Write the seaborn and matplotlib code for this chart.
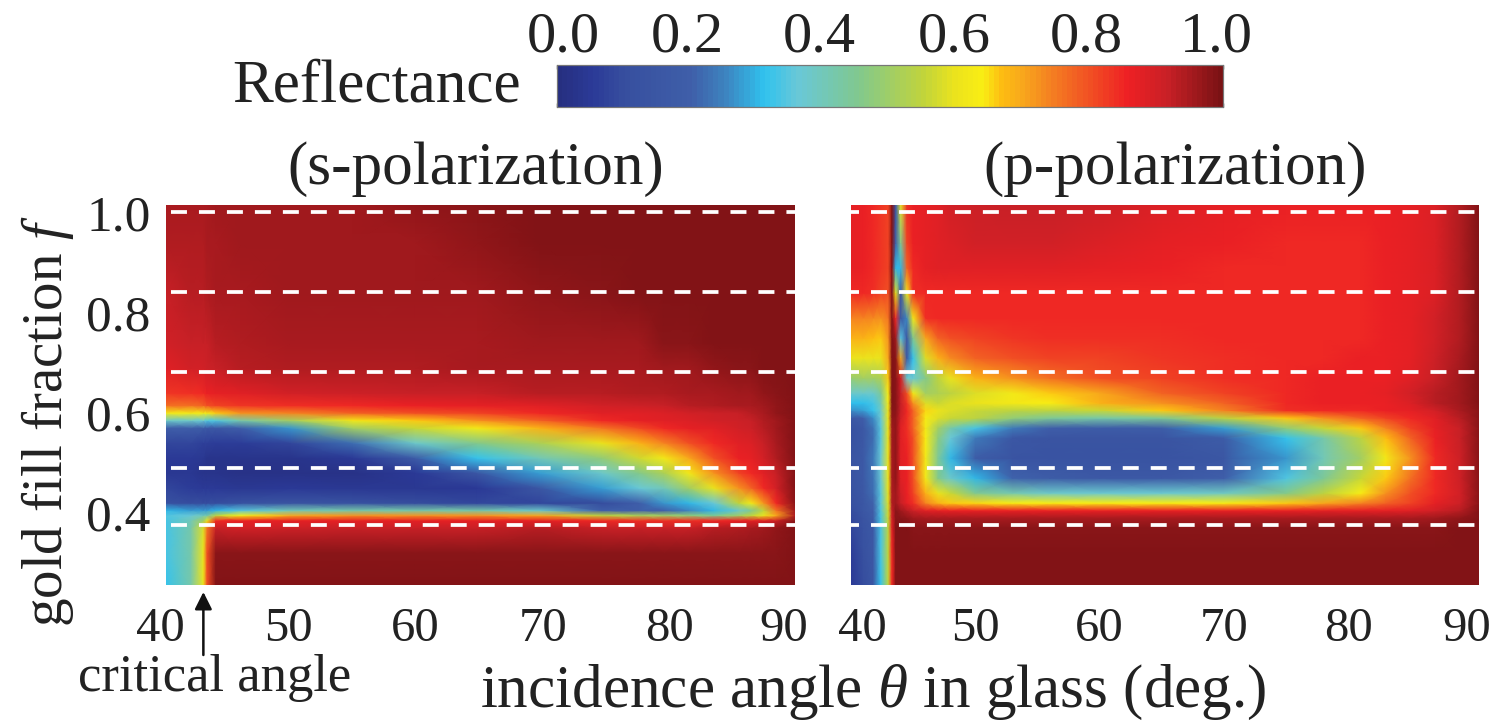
import matplotlib
matplotlib.use('Agg')
import matplotlib.pyplot as plt
import numpy as np
import seaborn as sns
from matplotlib.colors import LinearSegmentedColormap
from matplotlib.transforms import ScaledTranslation

# colour scale
cbar_stops = [0.0, 0.05, 0.10, 0.20, 0.25, 0.31, 0.36, 0.45, 0.55, 0.60, 0.64, 0.67, 0.70, 0.75, 0.86, 0.92, 1.0]
cbar_colors = ['#262f80', '#2b3a97', '#374f9f', '#3f5fa9', '#3d83bf', '#30c2ee', '#68c8d8', '#80c890',
               '#c0d43c', '#ece41c', '#f9ed14', '#fdbc12', '#f8a81c', '#f47a22', '#ee2024', '#c82026', '#7a1214']

# s-polarization, reflectance in percent (rows bottom to top)
s_angles = [40, 42, 43, 43.3, 44, 46, 50, 55, 60, 65, 70, 75, 78, 80, 82, 84, 86, 87, 88, 89, 90.5]
s_fill = [.266, .33, .38, .395, .405, .415, .43, .46, .49, .52, .55, .58, .595, .61, .625, .65, .70, .75, .85, .95, 1.03]
s_refl = [
    [32, 42, 60, 80, 99, 99, 99, 99, 99, 99, 99, 99, 99, 99, 99, 99, 99, 99, 99, 99, 99],
    [33, 42, 60, 80, 98, 98, 98, 98, 98, 98, 98, 98, 98, 98, 98, 98, 98, 98, 98, 98, 99],
    [33, 42, 58, 75, 92, 90, 91, 92, 92, 92, 93, 92, 92, 92, 92, 93, 94, 95, 96, 97, 99],
    [33, 40, 50, 60, 85, 86, 87, 87, 87, 87, 87, 85, 84, 84, 84, 85, 86, 87, 88, 91, 98],
    [34, 36, 40, 42, 55, 64, 70, 72, 72, 72, 70, 55, 52, 50, 48, 45, 50, 55, 60, 70, 94],
    [30, 28, 28, 28, 30, 35, 40, 42, 42, 42, 38, 20, 20, 20, 25, 30, 38, 45, 55, 75, 96],
    [12, 10, 10, 10, 10, 12, 14, 12, 10, 8, 8, 10, 20, 27, 30, 36, 55, 62, 72, 85, 98],
    [8, 6, 5, 5, 5, 4, 5, 4, 4, 5, 15, 28, 36, 40, 50, 60, 72, 78, 85, 90, 99],
    [4, 4, 3, 3, 3, 2, 2, 2, 5, 15, 28, 38, 46, 52, 62, 72, 82, 85, 88, 92, 99],
    [5, 5, 4, 3, 3, 3, 3, 5, 18, 32, 40, 48, 57, 62, 70, 80, 86, 87, 90, 94, 99],
    [8, 8, 7, 7, 6, 6, 8, 22, 38, 46, 52, 60, 68, 74, 80, 85, 88, 89, 92, 95, 99],
    [20, 20, 18, 16, 16, 20, 27, 50, 56, 62, 68, 75, 81, 85, 87, 88, 90, 91, 93, 96, 99],
    [38, 38, 36, 34, 34, 42, 50, 62, 66, 72, 78, 85, 87, 88, 89, 90, 91, 92, 94, 96, 99],
    [62, 62, 62, 62, 66, 72, 74, 78, 80, 82, 85, 88, 88, 89, 90, 91, 92, 93, 95, 97, 99],
    [76, 76, 78, 80, 82, 83, 84, 85, 86, 87, 88, 90, 91, 92, 93, 94, 95, 95, 96, 97, 99],
    [83, 84, 85, 86, 87, 88, 90, 91, 92, 92, 93, 93, 94, 94, 95, 95, 96, 96, 97, 98, 99],
    [88, 90, 90, 91, 92, 93, 94, 94, 94, 95, 95, 95, 95, 96, 96, 97, 98, 98, 99, 99, 99],
    [90, 92, 92, 92, 93, 94, 95, 95, 95, 95, 96, 96, 96, 98, 98, 99, 99, 99, 99, 99, 99],
    [92, 93, 93, 94, 95, 95, 96, 96, 96, 96, 97, 98, 99, 99, 99, 99, 99, 99, 99, 99, 99],
    [94, 94, 94, 95, 95, 96, 96, 96, 96, 97, 99, 99, 99, 99, 99, 99, 99, 99, 99, 99, 99],
    [95, 95, 95, 95, 96, 96, 96, 96, 97, 98, 99, 99, 99, 99, 99, 99, 99, 99, 99, 99, 99],
]

# p-polarization, reflectance in percent (rows bottom to top)
p_angles = [40, 41, 41.8, 42.4, 43, 43.3, 43.6, 44, 44.5, 45, 46, 47, 48, 50, 53, 56, 60, 65, 70, 75, 78, 81, 83, 85, 87, 89, 90.5]
p_fill = [.266, .33, .38, .40, .415, .43, .45, .48, .52, .56, .58, .60, .615, .63, .65, .68, .72, .76, .80, .85, .90, .95, 1.03]
p_refl = [
    [5, 10, 15, 32, 55, 85, 99, 99, 99, 99, 99, 99, 99, 99, 99, 99, 99, 99, 99, 99, 99, 99, 99, 99, 99, 99, 99],
    [6, 11, 16, 33, 55, 85, 99, 99, 99, 99, 99, 99, 99, 99, 99, 99, 99, 99, 99, 99, 99, 99, 99, 99, 99, 99, 99],
    [8, 13, 17, 33, 55, 88, 99, 99, 99, 98, 98, 98, 98, 98, 98, 98, 98, 98, 98, 98, 98, 98, 98, 98, 98, 99, 99],
    [9, 14, 18, 33, 56, 90, 98, 98, 97, 96, 95, 95, 95, 95, 95, 95, 95, 95, 95, 95, 95, 95, 95, 95, 96, 97, 99],
    [10, 15, 20, 34, 57, 92, 98, 96, 93, 91, 88, 87, 86, 86, 86, 86, 86, 86, 86, 86, 87, 87, 87, 88, 90, 93, 99],
    [11, 15, 21, 35, 58, 94, 96, 92, 87, 84, 74, 68, 66, 65, 64, 64, 64, 64, 64, 66, 70, 74, 78, 82, 87, 91, 98],
    [12, 16, 22, 35, 59, 94, 96, 90, 86, 82, 68, 60, 56, 45, 41, 38, 37, 37, 39, 46, 54, 64, 72, 80, 85, 90, 98],
    [13, 17, 23, 36, 60, 95, 97, 88, 86, 80, 62, 46, 38, 30, 21, 18, 16, 16, 20, 34, 44, 56, 66, 76, 85, 91, 98],
    [14, 17, 24, 36, 60, 95, 97, 88, 86, 80, 62, 44, 30, 18, 14, 13, 13, 13, 15, 27, 40, 50, 62, 72, 85, 91, 98],
    [12, 16, 22, 35, 60, 96, 97, 88, 85, 80, 64, 47, 36, 24, 15, 14, 14, 14, 18, 32, 42, 54, 67, 78, 86, 92, 98],
    [12, 16, 23, 35, 60, 96, 97, 88, 84, 78, 62, 50, 42, 33, 24, 20, 18, 19, 28, 48, 56, 66, 74, 82, 87, 92, 98],
    [16, 20, 26, 36, 60, 97, 97, 90, 84, 78, 63, 58, 56, 54, 48, 44, 42, 44, 54, 66, 72, 78, 82, 85, 88, 93, 98],
    [26, 28, 32, 38, 60, 98, 98, 92, 85, 78, 65, 60, 58, 56, 54, 54, 56, 66, 74, 84, 85, 85, 86, 87, 90, 95, 98],
    [31, 31, 33, 40, 62, 99, 98, 92, 83, 72, 58, 56, 58, 60, 62, 64, 68, 72, 78, 85, 86, 86, 86, 89, 93, 96, 99],
    [38, 38, 38, 44, 63, 99, 98, 92, 80, 62, 50, 52, 54, 58, 62, 66, 70, 78, 82, 85, 86, 86, 87, 90, 93, 96, 99],
    [49, 50, 50, 52, 66, 99, 98, 90, 38, 36, 46, 54, 60, 68, 72, 76, 80, 82, 84, 85, 86, 86, 86, 88, 92, 96, 99],
    [60, 60, 60, 60, 70, 99, 98, 70, 15, 32, 58, 68, 73, 78, 80, 82, 82, 83, 84, 85, 85, 86, 86, 87, 91, 95, 99],
    [68, 68, 67, 66, 72, 99, 96, 35, 15, 45, 70, 78, 80, 82, 83, 84, 84, 84, 85, 85, 85, 85, 86, 87, 90, 94, 99],
    [74, 74, 73, 72, 75, 99, 85, 15, 25, 62, 84, 85, 85, 85, 85, 85, 85, 85, 85, 85, 85, 85, 86, 87, 90, 94, 99],
    [85, 85, 84, 82, 80, 99, 60, 15, 62, 84, 85, 85, 85, 85, 85, 85, 85, 85, 85, 85, 85, 85, 86, 87, 89, 94, 99],
    [87, 86, 85, 83, 82, 99, 30, 30, 78, 85, 87, 88, 88, 88, 88, 88, 87, 86, 85, 85, 85, 85, 86, 87, 89, 94, 99],
    [87, 86, 85, 83, 82, 99, 20, 45, 82, 86, 87, 88, 89, 90, 90, 90, 89, 87, 86, 85, 85, 85, 86, 87, 89, 94, 99],
    [87, 86, 85, 83, 82, 99, 15, 60, 84, 86, 87, 88, 90, 91, 92, 92, 91, 89, 87, 86, 86, 86, 86, 87, 89, 94, 99],
]

dash_levels = [1.012, 0.852, 0.692, 0.50, 0.386]
y_ticks = [1.0, 0.8, 0.6, 0.4]
x_ticks = [40, 50, 60, 70, 80, 90]
x_labels = ['40', '50', '60', '70', '80', '90']
cbar_ticks = [0, 0.2, 0.4, 0.6, 0.8, 1.0]
cbar_labels = ['0.0', '0.2', '0.4', '0.6', '0.8', '1.0']

W, H = 1493, 723
xlim = (40, 90.5)
ylim = (0.266, 1.026)
TEXT = '#222222'


def box(l, t, r, b):
    return [l / W, 1 - b / H, (r - l) / W, (b - t) / H]


def nudge(labels, shifts):
    # the labels in the figure were placed by hand, not on the tick
    for lab, dx in zip(labels, shifts):
        lab.set_transform(lab.get_transform() + ScaledTranslation(dx / 100, 0, fig.dpi_scale_trans))


sns.set_theme(style='white')
plt.rcParams['font.family'] = ['Liberation Serif', 'DejaVu Serif']
plt.rcParams['mathtext.fontset'] = 'custom'
plt.rcParams['mathtext.rm'] = 'Liberation Serif'
plt.rcParams['mathtext.it'] = 'Liberation Serif:italic'
plt.rcParams['text.color'] = TEXT

cmap = LinearSegmentedColormap.from_list('refl', list(zip(cbar_stops, cbar_colors)), N=128)

fig = plt.figure(figsize=(W / 100, H / 100), dpi=100)
ax1 = fig.add_axes(box(166, 205, 795, 585))
ax2 = fig.add_axes(box(851, 205, 1479, 585))
cax = fig.add_axes(box(557, 65, 1223, 107))


def draw_panel(ax, angles, fill, refl, dash_start, label_shift, **kw):
    values = np.array(refl) / 100
    sns.heatmap(values, ax=ax, cmap=cmap, vmin=0, vmax=1, shading='gouraud', **kw)
    # seaborn puts the cells on the index; move the mesh onto the real angle/fill axes
    mesh = ax.collections[0]
    mesh._coordinates = np.stack(np.meshgrid(angles, fill), axis=-1).astype(float)
    lw = 2.7
    for level in dash_levels:
        ax.axhline(level, color='white', lw=lw, linestyle=(dash_start * 0.72 / lw, (4.26, 3.2)))
    ax.set_xticks(x_ticks)
    ax.set_xticklabels(x_labels, rotation=0)
    ax.set_xlim(*xlim)
    ax.set_ylim(*ylim)
    ax.tick_params(axis='x', length=0, labelsize=35, pad=16, labelcolor=TEXT)
    nudge(ax.get_xticklabels(), label_shift)
    for s in ax.spines.values():
        s.set_visible(False)


draw_panel(ax1, s_angles, s_fill, s_refl, 23, [-6, -2, 0, 3, 5, -5],
           cbar=True, cbar_ax=cax, cbar_kws={'orientation': 'horizontal'})
draw_panel(ax2, p_angles, p_fill, p_refl, 8, [11, 0, 0, 0, 0, -6], cbar=False)

ax1.set_yticks(y_ticks)
ax1.set_yticklabels(['1.0', '0.8', '0.6', '0.4'], rotation=0, fontsize=37, color=TEXT)
ax1.set_ylim(*ylim)
ax1.tick_params(axis='y', length=0, pad=11)
ax2.set_yticks([])
ax2.set_ylim(*ylim)

cax.tick_params(axis='x', top=True, bottom=True, labeltop=True, labelbottom=False, direction='in',
                length=3, width=1, labelsize=42, pad=1, color='#333333', labelcolor=TEXT)
cax.set_xticks(cbar_ticks)
cax.xaxis.set_ticklabels(cbar_labels)
nudge(cax.get_xticklabels(), [6, -3, -4, -2, -3, -7])
for s in cax.spines.values():
    s.set_visible(True)
    s.set_edgecolor('#777777')
    s.set_linewidth(0.8)

fig.text(476 / W, 1 - 184 / H, '(s-polarization)', fontsize=44, ha='center', va='baseline')
fig.text(1175 / W, 1 - 184 / H, '(p-polarization)', fontsize=44, ha='center', va='baseline')
fig.text(232 / W, 1 - 101 / H, 'Reflectance', fontsize=44, ha='left', va='baseline')
fig.text(48 / W, 1 - 421 / H, r'gold fill fraction $\mathit{f}$', fontsize=41, rotation=90, ha='center', va='center')
fig.text(873 / W, 1 - 707 / H, r'incidence angle $\mathit{\theta}$ in glass (deg.)', fontsize=44, ha='center', va='baseline')
fig.text(215 / W, 1 - 691 / H, 'critical angle', fontsize=38, ha='center', va='baseline')
ax1.annotate('', xy=(43.0, 0.252), xycoords='data', xytext=(43.0, 0.126),
             arrowprops=dict(arrowstyle='-|>', color='#111111', lw=1.8, mutation_scale=26, shrinkA=0, shrinkB=0),
             annotation_clip=False)

fig.savefig('out.png', dpi=100)
